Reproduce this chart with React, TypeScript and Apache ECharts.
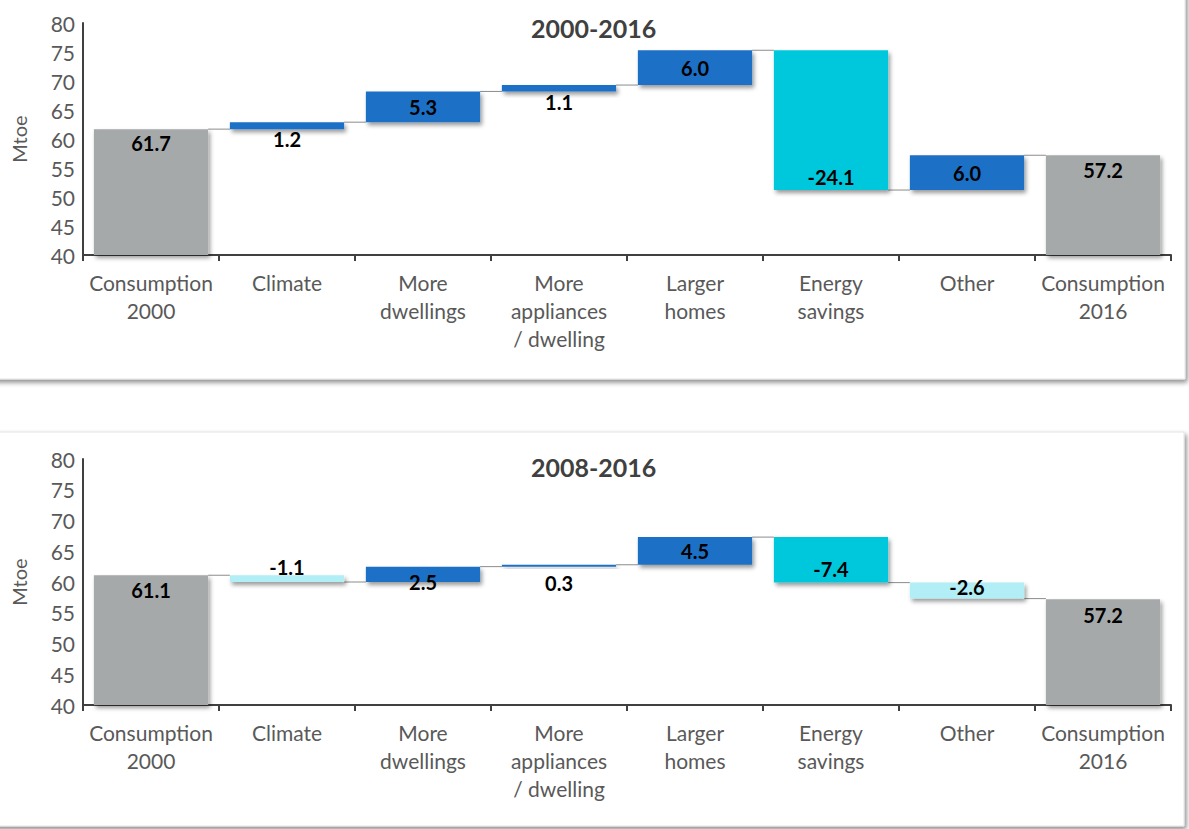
import React, { useEffect, useRef } from "react";
import * as echarts from "echarts";

// Decomposition of residential energy consumption (Mtoe)
const categories = [
  "Consumption\n2000",
  "Climate",
  "More\ndwellings",
  "More\nappliances\n/ dwelling",
  "Larger\nhomes",
  "Energy\nsavings",
  "Other",
  "Consumption\n2016",
];

// 2000-2016
const start2000 = 61.7;
const changes2000 = [1.2, 5.3, 1.1, 6.0, -24.1, 6.0];
const end2000 = 57.2;

// 2008-2016
const start2008 = 61.1;
const changes2008 = [-1.1, 2.5, 0.3, 4.5, -7.4, -2.6];
const end2008 = 57.2;

const yTicks = { min: 40, max: 80, step: 5 };

const FONT = "Lato, 'Open Sans', sans-serif";
const GRAY = "#A6A9A9";
const BLUE = "#1F6FC6";
const CYAN = "#00C8DC";
const LIGHT_CYAN = "#B2EEF5";
const SAVINGS_INDEX = 5;
const BAR_RATIO = 0.84;

type LabelSpec = { position: any; distance?: number };

// label placement per bar, one list per panel
const labels2000: LabelSpec[] = [
  { position: "insideTop", distance: 4 },
  { position: "bottom", distance: 0 },
  { position: "inside" },
  { position: "bottom", distance: 1 },
  { position: "inside" },
  { position: "insideBottom", distance: 3 },
  { position: "inside" },
  { position: "insideTop", distance: 5 },
];
const labels2008: LabelSpec[] = [
  { position: "insideTop", distance: 5 },
  { position: "top", distance: -2 },
  { position: ["50%", "100%"] },
  { position: "bottom", distance: 6 },
  { position: "inside" },
  { position: ["50%", "70%"] },
  { position: ["50%", "25%"] },
  { position: "insideTop", distance: 6 },
];

function buildPanel(
  start: number,
  changes: number[],
  end: number,
  labelSpecs: LabelSpec[],
  idx: number
) {
  const base: any[] = [];
  const visible: any[] = [];
  const connectors: number[][] = [];
  const mkLabel = (i: number, text: string) => {
    const s = labelSpecs[i];
    const isArr = Array.isArray(s.position);
    return {
      show: true,
      formatter: text,
      position: s.position,
      distance: s.distance ?? 5,
      align: "center",
      verticalAlign: isArr ? "middle" : undefined,
    };
  };

  let level = start;
  base.push(0);
  visible.push({
    value: start,
    itemStyle: { color: GRAY },
    label: mkLabel(0, start.toFixed(1)),
  });
  connectors.push([0, level]);
  changes.forEach((c, k) => {
    const i = k + 1;
    const next = Math.round((level + c) * 100) / 100;
    base.push(Math.min(level, next));
    const color = c >= 0 ? BLUE : i === SAVINGS_INDEX ? CYAN : LIGHT_CYAN;
    visible.push({
      value: Math.abs(c),
      itemStyle: { color },
      label: mkLabel(i, c.toFixed(1)),
    });
    level = next;
    connectors.push([i, level]);
  });
  base.push(0);
  visible.push({
    value: end,
    itemStyle: { color: GRAY },
    label: mkLabel(categories.length - 1, end.toFixed(1)),
  });

  const stack = "wf" + idx;
  return [
    {
      type: "bar",
      xAxisIndex: idx,
      yAxisIndex: idx,
      stack,
      data: base,
      barWidth: BAR_RATIO * 100 + "%",
      itemStyle: { color: "rgba(0,0,0,0)" },
      silent: true,
      clip: true,
    },
    {
      type: "bar",
      xAxisIndex: idx,
      yAxisIndex: idx,
      stack,
      data: visible,
      barWidth: BAR_RATIO * 100 + "%",
      clip: true,
      itemStyle: {
        shadowColor: "rgba(0,0,0,0.4)",
        shadowBlur: 4,
        shadowOffsetX: 2,
        shadowOffsetY: 3,
      },
      label: {
        color: "#000",
        fontFamily: FONT,
        fontSize: 20,
        fontWeight: "bold",
      },
    },
    {
      type: "custom",
      xAxisIndex: idx,
      yAxisIndex: idx,
      data: connectors,
      z: 1,
      renderItem: (params: any, api: any) => {
        const i = api.value(0);
        const lv = api.value(1);
        const p = api.coord([i, lv]);
        const band = api.size([1, 0])[0];
        const half = (band * BAR_RATIO) / 2;
        return {
          type: "line",
          shape: { x1: p[0] + half, y1: p[1], x2: p[0] + band - half, y2: p[1] },
          style: { stroke: "#8C8C8C", lineWidth: 1 },
        };
      },
    },
  ];
}

function axisPair(idx: number) {
  const axisLine = { show: true, lineStyle: { color: "#404040", width: 2 } };
  return {
    x: {
      type: "category",
      gridIndex: idx,
      data: categories,
      axisLine,
      axisTick: { show: true, length: 6, lineStyle: { color: "#404040", width: 2 } },
      axisLabel: {
        interval: 0,
        color: "#595959",
        fontFamily: FONT,
        fontSize: 21,
        lineHeight: 28,
        margin: 13,
      },
    },
    y: {
      type: "value",
      gridIndex: idx,
      min: yTicks.min,
      max: yTicks.max,
      interval: yTicks.step,
      axisLine,
      axisTick: { show: false },
      splitLine: { show: false },
      axisLabel: {
        color: "#595959",
        fontFamily: FONT,
        fontSize: 21,
        margin: 8,
      },
      name: "Mtoe",
      nameLocation: "middle",
      nameGap: 54,
      nameTextStyle: { color: "#595959", fontFamily: FONT, fontSize: 20 },
    },
  };
}

export default function App() {
  const ref = useRef<HTMLDivElement>(null);

  useEffect(() => {
    if (!ref.current) return;
    const chart = echarts.init(ref.current, undefined, { renderer: "svg" });
    const a0 = axisPair(0);
    const a1 = axisPair(1);
    const titleStyle = {
      color: "#404040",
      fontFamily: FONT,
      fontSize: 25,
      fontWeight: "bold",
    };
    const cardStyle = {
      fill: "#fff",
      stroke: "#e4e4e4",
      lineWidth: 1,
      shadowColor: "rgba(0,0,0,0.45)",
      shadowBlur: 5,
      shadowOffsetX: 2,
      shadowOffsetY: 3,
    };
    chart.setOption({
      animation: false,
      backgroundColor: "#fff",
      graphic: [
        {
          type: "rect",
          z: -10,
          shape: { x: -10, y: -10, width: 1195, height: 389 },
          style: cardStyle,
        },
        {
          type: "rect",
          z: -10,
          shape: { x: -10, y: 432, width: 1194, height: 394 },
          style: cardStyle,
        },
      ],
      title: [
        { text: "2000-2016", left: 526, top: 10, textStyle: titleStyle },
        { text: "2008-2016", left: 526, top: 449, textStyle: titleStyle },
      ],
      grid: [
        { left: 83, top: 23, width: 1088, height: 232 },
        { left: 83, top: 459, width: 1088, height: 246 },
      ],
      xAxis: [a0.x, a1.x],
      yAxis: [a0.y, a1.y],
      series: [
        ...buildPanel(start2000, changes2000, end2000, labels2000, 0),
        ...buildPanel(start2008, changes2008, end2008, labels2008, 1),
      ],
    });
    return () => chart.dispose();
  }, []);

  return (
    <div
      ref={ref}
      style={{ position: "absolute", left: 0, top: 0, width: 1189, height: 829 }}
    />
  );
}
